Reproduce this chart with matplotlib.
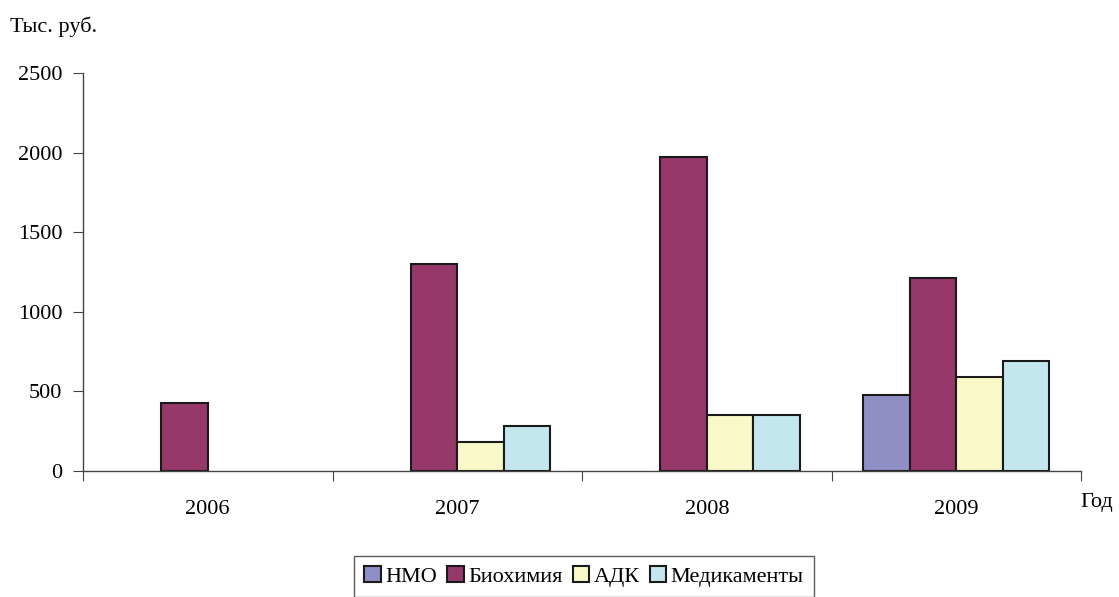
import matplotlib
matplotlib.use("Agg")
import matplotlib.pyplot as plt
import numpy as np

plt.rcParams['font.family'] = ['Liberation Serif', 'DejaVu Serif']

years = ["2006", "2007", "2008", "2009"]
series_names = ["НМО", "Биохимия", "АДК", "Медикаменты"]
nmo = [0, 0, 0, 475]
biochem = [425, 1300, 1970, 1210]
adk = [0, 185, 350, 590]
meds = [0, 285, 350, 690]
colors = ["#8F8FC6", "#96386A", "#F8F8C8", "#C4E6EE"]

fig = plt.figure(figsize=(11.19, 5.97), dpi=100)
ax = fig.add_axes([83/1119, 126/597, 998/1119, 398/597])

x = np.arange(len(years))
w = 0.186
allvals = [nmo, biochem, adk, meds]
handles = []
for i, (name, vals, col) in enumerate(zip(series_names, allvals, colors)):
    off = (i - 1.5) * w
    vals = np.array(vals, dtype=float)
    keep = vals > 0  # empty categories have no bar in the original
    b = ax.bar(x[keep] + off, vals[keep], width=w, color=col,
               edgecolor="#1a1a1a", linewidth=1.5, label=name)
    handles.append(b)

ax.set_xlim(-0.5, 3.5)
ax.set_ylim(0, 2500)
ax.set_yticks([0, 500, 1000, 1500, 2000, 2500])
ax.set_xticks([-0.5, 0.5, 1.5, 2.5, 3.5])
ax.set_xticklabels([])
ax.set_xticks(x, minor=True)
ax.set_xticklabels(years, minor=True)
ax.tick_params(axis='x', which='minor', length=0, pad=21, labelsize=16)
ax.tick_params(axis='x', which='major', length=7, color="#444444", direction='out')
ax.tick_params(axis='y', length=7, color="#444444", labelsize=16, pad=8)
for s in ["top", "right"]:
    ax.spines[s].set_visible(False)
for s in ["left", "bottom"]:
    ax.spines[s].set_color("#444444")
    ax.spines[s].set_linewidth(1.0)

fig.text(10/1119, 1 - 27/597, "Тыс. руб.", fontsize=16, va="center", ha="left")
fig.text(1080/1119, 1 - 503/597, "Год", fontsize=16, va="center", ha="left")

leg = fig.legend(handles, series_names, loc="upper center", ncol=4,
                 bbox_to_anchor=(584/1119, 1 - 556/597), fontsize=16,
                 frameon=True, fancybox=False, edgecolor="#333333",
                 handlelength=0.75, handleheight=0.75, handletextpad=0.2,
                 columnspacing=0.45, borderpad=0.45, borderaxespad=0)
leg.get_frame().set_linewidth(1.0)

fig.savefig("out.png", dpi=100)
